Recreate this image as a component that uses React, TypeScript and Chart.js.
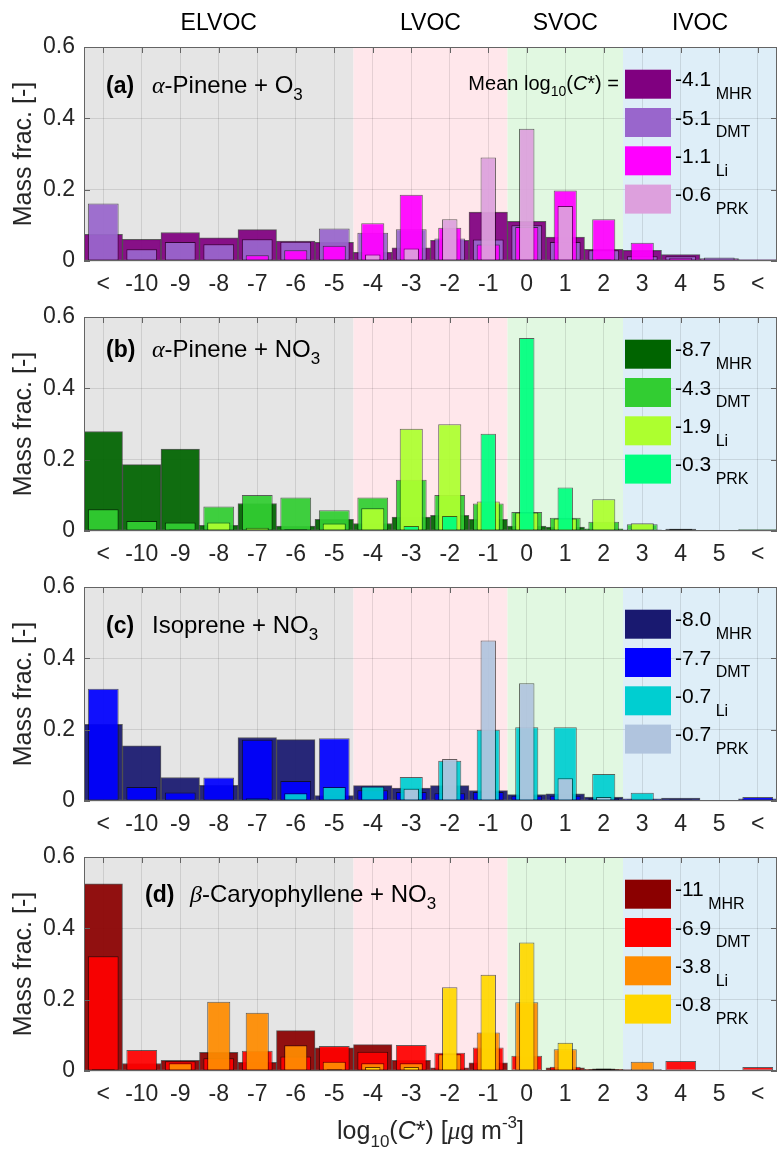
import React, { useEffect, useRef } from "react";
import { Chart, registerables } from "chart.js";

Chart.register(...registerables);

// ---------- data ----------
const categories = ["<", "-10", "-9", "-8", "-7", "-6", "-5", "-4", "-3", "-2", "-1", "0", "1", "2", "3", "4", "5", "<"];
const seriesNames = ["MHR", "DMT", "Li", "PRK"];
const yTicks = [0, 0.2, 0.4, 0.6];
const bandNames = ["ELVOC", "LVOC", "SVOC", "IVOC"];
const bandFirst = [0, 7, 11, 14];
const bandLast = [6, 10, 13, 17];

const aMHR = [0.075, 0.061, 0.080, 0.065, 0.088, 0.056, 0.052, 0.024, 0.037, 0.058, 0.137, 0.111, 0.067, 0.033, 0.030, 0.018, 0.007, 0.004];
const aDMT = [0.161, 0.033, 0.053, 0.047, 0.061, 0.054, 0.091, 0.079, 0.089, 0.063, 0.060, 0.100, 0.053, 0.030, 0.013, 0.013, 0.010, 0.001];
const aLi = [0, 0, 0, 0.002, 0.016, 0.030, 0.043, 0.106, 0.186, 0.093, 0.046, 0.095, 0.198, 0.117, 0.051, 0.009, 0, 0];
const aPRK = [0, 0, 0, 0, 0, 0, 0, 0.018, 0.035, 0.117, 0.290, 0.371, 0.154, 0.004, 0.002, 0, 0, 0];
const aMeans = ["-4.1", "-5.1", "-1.1", "-0.6"];

const bMHR = [0.279, 0.186, 0.230, 0.016, 0.077, 0.014, 0.033, 0.021, 0.039, 0.044, 0.033, 0.014, 0.011, 0.006, 0.003, 0.002, 0.002, 0.004];
const bDMT = [0.061, 0.028, 0.024, 0.069, 0.101, 0.094, 0.058, 0.094, 0.144, 0.101, 0.077, 0.053, 0.037, 0.026, 0.019, 0.006, 0.003, 0.002];
const bLi = [0, 0, 0.004, 0.024, 0.009, 0.005, 0.021, 0.064, 0.287, 0.299, 0.083, 0.052, 0.035, 0.089, 0.022, 0.006, 0, 0];
const bPRK = [0, 0, 0, 0, 0, 0, 0, 0, 0.014, 0.042, 0.273, 0.541, 0.122, 0.003, 0, 0, 0, 0];
const bMeans = ["-8.7", "-4.3", "-1.9", "-0.3"];

const cMHR = [0.215, 0.155, 0.066, 0.044, 0.178, 0.172, 0.015, 0.043, 0.036, 0.043, 0.029, 0.018, 0.020, 0.011, 0.006, 0.008, 0.002, 0.006];
const cDMT = [0.315, 0.039, 0.024, 0.066, 0.172, 0.056, 0.176, 0.030, 0.025, 0.022, 0.025, 0.015, 0.015, 0.008, 0.004, 0.003, 0.002, 0.011];
const cLi = [0, 0, 0, 0, 0.008, 0.022, 0.039, 0.041, 0.067, 0.113, 0.200, 0.207, 0.207, 0.076, 0.023, 0.004, 0, 0];
const cPRK = [0, 0, 0, 0, 0, 0, 0, 0, 0.034, 0.118, 0.450, 0.330, 0.064, 0.011, 0, 0, 0, 0];
const cMeans = ["-8.0", "-7.7", "-0.7", "-0.7"];

const dMHR = [0.525, 0.021, 0.030, 0.052, 0.024, 0.113, 0.065, 0.074, 0.030, 0.009, 0.023, 0.002, 0.009, 0.005, 0.004, 0.001, 0.001, 0.001];
const dDMT = [0.322, 0.059, 0.027, 0.036, 0.057, 0.041, 0.070, 0.054, 0.073, 0.051, 0.066, 0.043, 0.012, 0.005, 0.001, 0.028, 0.001, 0.011];
const dLi = [0.005, 0, 0.022, 0.194, 0.163, 0.072, 0.026, 0.022, 0.022, 0.047, 0.108, 0.193, 0.061, 0.007, 0.026, 0, 0, 0];
const dPRK = [0, 0, 0, 0, 0, 0, 0.005, 0.011, 0.011, 0.235, 0.270, 0.360, 0.079, 0.007, 0, 0, 0, 0];
const dMeans = ["-11", "-6.9", "-3.8", "-0.8"];

// ---------- styles ----------
const SANS = '"Liberation Sans", Arial, sans-serif';
const SERIF = '"Liberation Serif", "Times New Roman", serif';
const barFractions = [1.0, 0.8, 0.6, 0.4];
const bandColors = ["rgb(229,229,229)", "rgb(255,231,235)", "rgb(225,248,225)", "rgb(222,238,248)"];
const TEXT = "#262626";

type PanelDef = {
  letter: string;
  greek: string;
  rest: string;
  letterX: number;
  restX: number;
  titleBase: number;
  series: number[][];
  colors: string[];
  means: string[];
};

const panels: PanelDef[] = [
  { letter: "(a)", greek: "\u03b1", rest: "-Pinene + O", letterX: 106, restX: 152, titleBase: 93, series: [aMHR, aDMT, aLi, aPRK], colors: ["#800080", "#9966CC", "#FF00FF", "#DDA0DD"], means: aMeans },
  { letter: "(b)", greek: "\u03b1", rest: "-Pinene + NO", letterX: 106, restX: 152, titleBase: 87, series: [bMHR, bDMT, bLi, bPRK], colors: ["#006400", "#32CD32", "#ADFF2F", "#00FF7F"], means: bMeans },
  { letter: "(c)", greek: "", rest: "Isoprene + NO", letterX: 106, restX: 152, titleBase: 93, series: [cMHR, cDMT, cLi, cPRK], colors: ["#191970", "#0000FF", "#00CED1", "#B0C4DE"], means: cMeans },
  { letter: "(d)", greek: "\u03b2", rest: "-Caryophyllene + NO", letterX: 145, restX: 190, titleBase: 92, series: [dMHR, dDMT, dLi, dPRK], colors: ["#8B0000", "#FF0000", "#FF8C00", "#FFD700"], means: dMeans },
];

function hexA(hex: string, a: number) {
  const n = parseInt(hex.slice(1), 16);
  return `rgba(${(n >> 16) & 255},${(n >> 8) & 255},${n & 255},${a})`;
}

type Seg = { t: string; font: string; dy?: number };
function drawRich(ctx: CanvasRenderingContext2D, segs: Seg[], x: number, y: number, align: "left" | "center" | "right") {
  const widths = segs.map((s) => {
    ctx.font = s.font;
    return ctx.measureText(s.t).width;
  });
  const total = widths.reduce((a, b) => a + b, 0);
  let cx = align === "left" ? x : align === "center" ? x - total / 2 : x - total;
  ctx.textAlign = "left";
  ctx.textBaseline = "alphabetic";
  segs.forEach((s, i) => {
    ctx.font = s.font;
    ctx.fillText(s.t, cx, y + (s.dy || 0));
    cx += widths[i];
  });
}

function PanelChart({ p, idx, top, height }: { p: PanelDef; idx: number; top: number; height: number }) {
  const ref = useRef<HTMLCanvasElement>(null);
  useEffect(() => {
    const canvas = ref.current!;
    const deco = {
      id: "deco",
      beforeDraw(chart: any) {
        const { ctx, chartArea: ca, scales } = chart;
        const xs = scales.x;
        const half = (xs.getPixelForValue(1) - xs.getPixelForValue(0)) / 2;
        ctx.save();
        bandFirst.forEach((f, i) => {
          const x0 = xs.getPixelForValue(f) - half;
          const x1 = xs.getPixelForValue(bandLast[i]) + half;
          ctx.fillStyle = bandColors[i];
          ctx.fillRect(x0, ca.top, x1 - x0, ca.bottom - ca.top);
        });
        ctx.restore();
      },
      afterDatasetsDraw(chart: any) {
        const { ctx, chartArea: ca, scales } = chart;
        const xs = scales.x;
        const ys = scales.y;
        ctx.save();
        ctx.strokeStyle = "rgb(100,100,100)";
        ctx.lineWidth = 1;
        ctx.beginPath();
        categories.forEach((_, i) => {
          const px = Math.round(xs.getPixelForValue(i)) + 0.5;
          ctx.moveTo(px, ca.top);
          ctx.lineTo(px, ca.top + 6);
        });
        yTicks.forEach((v) => {
          const py = Math.round(ys.getPixelForValue(v)) + 0.5;
          ctx.moveTo(ca.left, py);
          ctx.lineTo(ca.left + 6, py);
          ctx.moveTo(ca.right, py);
          ctx.lineTo(ca.right - 6, py);
        });
        ctx.stroke();
        ctx.strokeRect(ca.left + 0.5, ca.top + 0.5, ca.right - ca.left - 1, ca.bottom - ca.top - 1);
        ctx.restore();
      },
      afterDraw(chart: any) {
        const { ctx, chartArea: ca, scales } = chart;
        const xs = scales.x;
        ctx.save();
        // title
        ctx.fillStyle = "#000";
        drawRich(ctx, [{ t: p.letter, font: `bold 23px ${SANS}` }], p.letterX, ca.top + p.titleBase - 47, "left");
        const segs: Seg[] = [];
        if (p.greek) segs.push({ t: p.greek, font: `italic 24px ${SERIF}` });
        segs.push({ t: p.rest, font: `24px ${SANS}` });
        segs.push({ t: "3", font: `17px ${SANS}`, dy: 7 });
        drawRich(ctx, segs, p.restX, ca.top + p.titleBase - 47, "left");

        // legend
        const bx = 625;
        p.colors.forEach((c, k) => {
          const by = ca.top + 22.7 + 38.3 * k;
          ctx.fillStyle = c;
          ctx.fillRect(bx, by, 46, 29);
          ctx.fillStyle = "#000";
          drawRich(
            ctx,
            [
              { t: p.means[k], font: `21px ${SANS}` },
              { t: " " + seriesNames[k], font: `16px ${SANS}`, dy: 12.5 },
            ],
            bx + 50,
            by + 14.5 + 2.2,
            "left"
          );
        });
        if (idx === 0) {
          const by = ca.top + 22.7 + 14.5;
          drawRich(
            ctx,
            [
              { t: "Mean log", font: `20px ${SANS}` },
              { t: "10", font: `14px ${SANS}`, dy: 6 },
              { t: "(", font: `20px ${SANS}` },
              { t: "C", font: `italic 20px ${SANS}` },
              { t: "*) =", font: `20px ${SANS}` },
            ],
            619,
            by + 5.5,
            "right"
          );
          // band labels
          const half = (xs.getPixelForValue(1) - xs.getPixelForValue(0)) / 2;
          ctx.fillStyle = "#000";
          ctx.font = `23px ${SANS}`;
          ctx.textAlign = "center";
          ctx.textBaseline = "alphabetic";
          bandNames.forEach((n, i) => {
            const x0 = xs.getPixelForValue(bandFirst[i]) - half;
            const x1 = Math.min(xs.getPixelForValue(bandLast[i]) + half, ca.right);
            ctx.fillText(n, (x0 + x1) / 2, 30);
          });
        }
        // y axis label
        ctx.fillStyle = TEXT;
        ctx.translate(24, (ca.top + ca.bottom) / 2);
        ctx.rotate(-Math.PI / 2);
        ctx.font = `25px ${SANS}`;
        ctx.textAlign = "center";
        ctx.textBaseline = "middle";
        ctx.fillText("Mass frac. [-]", 0, 0);
        ctx.setTransform(1, 0, 0, 1, 0, 0);
        if (idx === 3) {
          ctx.fillStyle = TEXT;
          drawRich(
            ctx,
            [
              { t: "log", font: `25px ${SANS}` },
              { t: "10", font: `17px ${SANS}`, dy: 8 },
              { t: "(", font: `25px ${SANS}` },
              { t: "C", font: `italic 25px ${SANS}` },
              { t: "*) [", font: `25px ${SANS}` },
              { t: "\u03bc", font: `italic 25px ${SERIF}` },
              { t: "g m", font: `25px ${SANS}` },
              { t: "-3", font: `17px ${SANS}`, dy: -11 },
              { t: "]", font: `25px ${SANS}` },
            ],
            (ca.left + ca.right) / 2,
            329,
            "center"
          );
        }
        ctx.restore();
      },
    };

    const datasets = p.series.map((vals, k) => ({
      label: seriesNames[k],
      data: vals,
      backgroundColor: hexA(p.colors[k], 0.93),
      borderColor: "rgba(0,0,0,0.6)",
      borderWidth: 1,
      borderSkipped: false,
      grouped: false,
      categoryPercentage: 1,
      barPercentage: barFractions[k],
      order: 4 - k,
    }));

    const chart = new Chart(canvas, {
      type: "bar",
      data: { labels: categories, datasets: datasets as any },
      options: {
        animation: false,
        responsive: false,
        maintainAspectRatio: false,
        layout: { padding: { top: 47, left: 0, right: 0, bottom: height - 300 } },
        plugins: { legend: { display: false }, tooltip: { enabled: false }, title: { display: false } },
        scales: {
          x: {
            type: "category",
            offset: true,
            grid: { offset: false, color: "rgba(0,0,0,0.1)", drawTicks: false },
            border: { display: false },
            ticks: { font: { family: SANS, size: 23 }, color: TEXT, padding: 10, maxRotation: 0, autoSkip: false },
            afterFit: (s: any) => {
              s.height = 39;
            },
          },
          y: {
            min: 0,
            max: 0.6,
            grid: { color: "rgba(0,0,0,0.1)", drawTicks: false },
            border: { display: false },
            afterBuildTicks: (s: any) => {
              s.ticks = yTicks.map((v) => ({ value: v }));
            },
            ticks: {
              font: { family: SANS, size: 23 },
              color: TEXT,
              padding: 9,
              callback: (v: any) => (Number(v) === 0 ? "0" : Number(v).toFixed(1)),
            },
            afterFit: (s: any) => {
              s.width = 84;
            },
          },
        },
      } as any,
      plugins: [deco],
    });
    return () => chart.destroy();
  }, []);
  return (
    <canvas
      ref={ref}
      width={777}
      height={height}
      style={{ position: "absolute", left: 0, top, width: 777, height, display: "block" }}
    />
  );
}

export default function App() {
  return (
    <div style={{ position: "absolute", left: 0, top: 0, width: 777, height: 1153, background: "#fff", overflow: "hidden" }}>
      {panels.map((p, i) => (
        <PanelChart key={i} p={p} idx={i} top={270 * i} height={i === 3 ? 343 : 300} />
      ))}
    </div>
  );
}
